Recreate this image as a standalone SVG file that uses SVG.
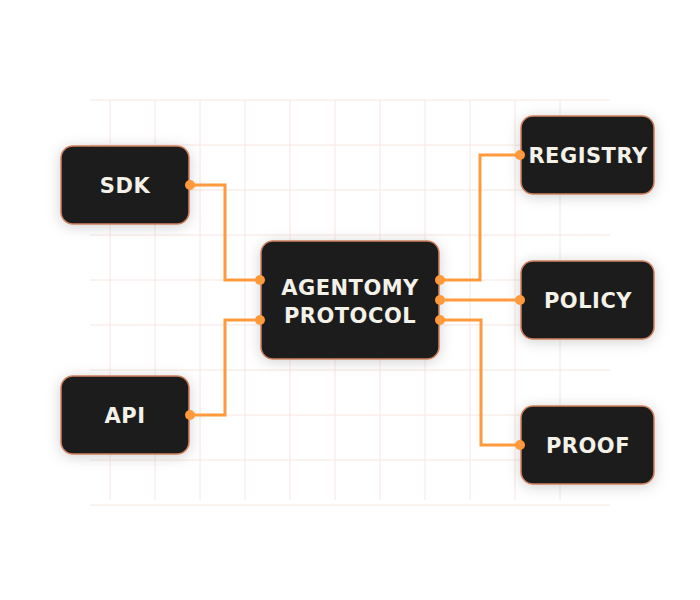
<svg xmlns="http://www.w3.org/2000/svg" width="700" height="600" viewBox="0 0 700 600">
<defs>
<style>
.g{stroke:#f6e6e0;stroke-width:1}
.n rect{fill:#1f1f1f;stroke:#d0805e;stroke-width:1.5;filter:url(#sh)}
.n text{fill:#f3f1e8;font-family:"DejaVu Sans",sans-serif;font-weight:bold;font-size:21px;text-anchor:middle;letter-spacing:0.5px}
.c path{fill:none;stroke:#ff9a3c;stroke-width:3}
.c circle{fill:#ff9a3c}
</style>
<filter id="sh" x="-30%" y="-30%" width="160%" height="160%"><feDropShadow dx="0" dy="2" stdDeviation="7" flood-color="#000" flood-opacity="0.18"/></filter>
</defs>
<rect width="700" height="600" fill="#fff"/>
<g id="grid" class="g">
<path d="M90 100H610M90 145H610M90 190H610M90 235H610M90 280H610M90 325H610M90 370H610M90 415H610M90 460H610M90 505H610"/>
<path d="M110 100V500M155 100V500M200 100V500M245 100V500M290 100V500M335 100V500M380 100V500M425 100V500M470 100V500M515 100V500M560 100V500"/>
</g>
<g id="sdk" class="n"><rect x="61" y="146" width="128" height="78" rx="12"/><text x="125" y="193">SDK</text></g>
<g id="api" class="n"><rect x="61" y="376" width="128" height="78" rx="12"/><text x="125" y="423">API</text></g>
<g id="agentomy" class="n"><rect x="261" y="241" width="178" height="118" rx="12"/><text x="350" y="295">AGENTOMY</text><text x="350" y="323">PROTOCOL</text></g>
<g id="registry" class="n"><rect x="521" y="116" width="133" height="78" rx="12"/><text x="588" y="163">REGISTRY</text></g>
<g id="policy" class="n"><rect x="521" y="261" width="133" height="78" rx="12"/><text x="588" y="308">POLICY</text></g>
<g id="proof" class="n"><rect x="521" y="406" width="133" height="78" rx="12"/><text x="588" y="453">PROOF</text></g>
<g id="connectors" class="c">
<path d="M189 185H225V280H261"/>
<path d="M189 415H225V320H261"/>
<path d="M439 280H480V155H521"/>
<path d="M439 300H521"/>
<path d="M439 320H481V445H521"/>
<circle cx="190" cy="185" r="5"/><circle cx="260" cy="280" r="5"/>
<circle cx="190" cy="415" r="5"/><circle cx="260" cy="320" r="5"/>
<circle cx="440" cy="280" r="5"/><circle cx="520" cy="155" r="5"/>
<circle cx="440" cy="300" r="5"/><circle cx="520" cy="300" r="5"/>
<circle cx="440" cy="320" r="5"/><circle cx="520" cy="445" r="5"/>
</g>
</svg>
